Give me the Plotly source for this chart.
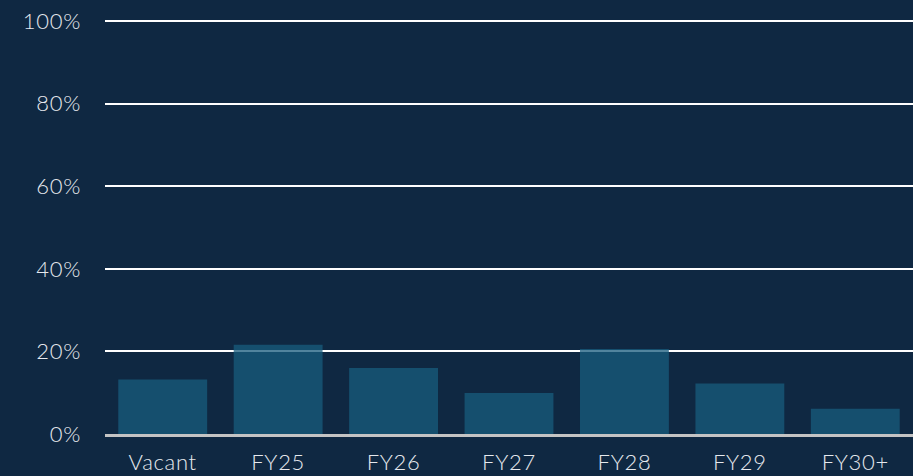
import plotly.graph_objects as go

categories = ["Vacant", "FY25", "FY26", "FY27", "FY28", "FY29", "FY30+"]
values = [13.2, 21.6, 16.0, 9.9, 20.6, 12.2, 6.1]
y_ticks = [0, 20, 40, 60, 80, 100]
y_tick_labels = ["0%", "20%", "40%", "60%", "80%", "100%"]

BG = "#0f2842"
BAR = "rgb(24,92,125)"
TXT = "#e6e9ee"
FONT = "Lato, 'Open Sans', sans-serif"

fig = go.Figure(go.Bar(
    x=categories, y=values,
    marker=dict(color=BAR, line=dict(width=0)),
    opacity=0.75,
    hoverinfo="skip",
))

fig.update_layout(
    width=913, height=476,
    paper_bgcolor=BG, plot_bgcolor=BG,
    margin=dict(l=105, r=0, t=19, b=42, autoexpand=False),
    bargap=0.23,
    showlegend=False,
    font=dict(family=FONT, size=22, color=TXT, weight=300),
)
fig.update_xaxes(
    showgrid=False, showline=True, linecolor="#c4c4c4", linewidth=3,
    ticks="", ticklabelstandoff=7, automargin=False,
    tickfont=dict(family=FONT, size=22, color=TXT, weight=300),
)
fig.update_yaxes(
    range=[0, 100.5], tickvals=y_ticks, ticktext=y_tick_labels,
    showgrid=True, gridcolor="#ffffff", gridwidth=2,
    zeroline=False, showline=False, ticks="", ticklabelstandoff=23,
    automargin=False,
    tickfont=dict(family=FONT, size=22, color=TXT, weight=300),
)

css = ".xtick text, .ytick text { letter-spacing: 0.7px; }"
fig.write_html(
    "out.html",
    config={"displayModeBar": False, "staticPlot": True},
    post_script=(
        "document.body.style.margin='0';"
        "document.body.style.background='%s';"
        "var s=document.createElement('style');s.textContent='%s';"
        "document.head.appendChild(s);" % (BG, css)
    ),
)
